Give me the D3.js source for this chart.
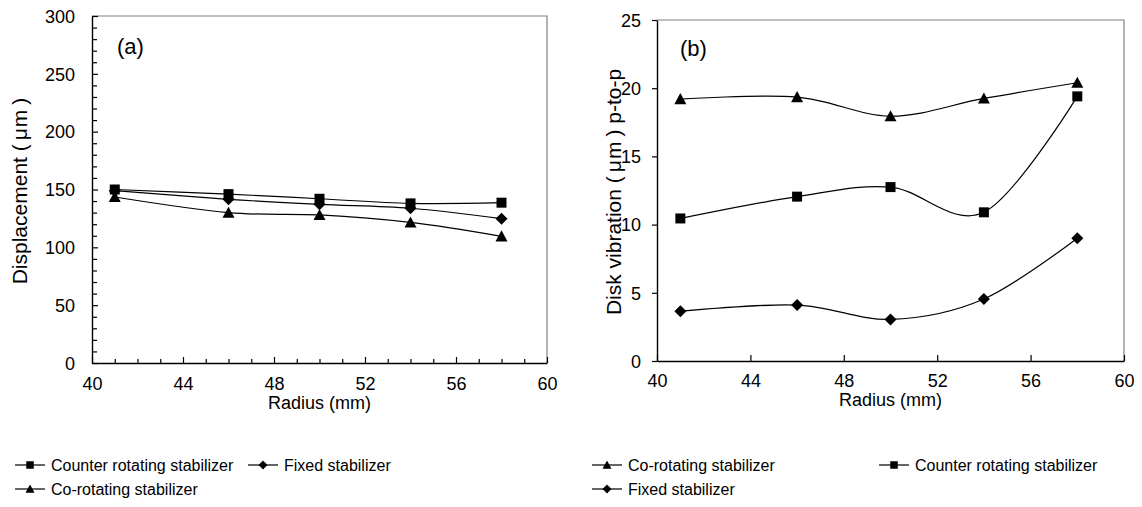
<!DOCTYPE html>
<html><head><meta charset="utf-8">
<script src="https://cdn.jsdelivr.net/npm/d3@7"></script>
<style>
html,body{margin:0;padding:0;background:#fff;}
svg{display:block;font-family:"Liberation Sans",Arial,sans-serif;}
</style></head>
<body>
<svg id="chart" width="1142" height="507"></svg>
<script>
// ---- data ----
const radius = [41, 46, 50, 54, 58];
const xTicks = [40, 44, 48, 52, 56, 60];
const yTicksA = [0, 50, 100, 150, 200, 250, 300];
const yTicksB = [0, 5, 10, 15, 20, 25];
const dispCounter = [150, 146, 142, 138, 138.6];
const dispFixed = [149, 141.5, 137.2, 133.8, 124.8];
const dispCo = [143.5, 130, 128, 121.5, 109.5];
const vibCo = [19.2, 19.35, 17.95, 19.25, 20.4];
const vibCounter = [10.45, 12.05, 12.75, 10.9, 19.4];
const vibFixed = [3.65, 4.1, 3.05, 4.55, 9.0];
const seriesNames = ["Counter rotating stabilizer", "Fixed stabilizer", "Co-rotating stabilizer"];

const svg = d3.select("#chart");

// custom marker shapes (size = full width in px)
const sqType = {draw(c, s){ const h = s/2; c.moveTo(-h,-h); c.lineTo(h,-h); c.lineTo(h,h); c.lineTo(-h,h); c.closePath(); }};
const diaType = {draw(c, s){ const h = s/2; c.moveTo(0,-h); c.lineTo(h,0); c.lineTo(0,h); c.lineTo(-h,0); c.closePath(); }};
const triType = {draw(c, s){ const h = s/2; c.moveTo(0,-h); c.lineTo(h,h*0.85); c.lineTo(-h,h*0.85); c.closePath(); }};
const sym = (t, s) => d3.symbol().type(t).size(s)();
const markerOf = {square: [sqType, 10], diamond: [diaType, 12], triangle: [triType, 12]};

function yTitle(g, x, y, before, after){
  const t = g.append("text").attr("transform",`translate(${x},${y}) rotate(-90)`)
    .attr("text-anchor","middle").attr("dominant-baseline","central").attr("font-size", 21);
  t.append("tspan").text(before + "(");
  t.append("tspan").attr("dx", 4).text("\u03bc");
  t.append("tspan").attr("dx", 1).text("m");
  t.append("tspan").attr("dx", 5).text(")");
  if (after) t.append("tspan").text(after);
}

function panel(opt){
  const {left, right, top, bottom, yMax, yTicks, series, label, minor, yOut} = opt;
  const x = d3.scaleLinear().domain([40, 60]).range([left, right]);
  const y = d3.scaleLinear().domain([0, yMax]).range([bottom, top]);
  const g = svg.append("g");
  g.append("path").attr("d", `M${left},${top}H${right}V${bottom}`).attr("fill","none").attr("stroke","#808080").attr("stroke-width",1.2);

  if (minor){
    const xm = d3.range(40, 61, 1).filter(v => v % 4 !== 0);
    g.append("g").attr("transform",`translate(0,${bottom})`)
      .call(d3.axisBottom(x).tickValues(xm).tickSize(-4).tickFormat(""))
      .call(a => a.select(".domain").remove())
      .call(a => a.selectAll("line").attr("stroke","#000").attr("stroke-width",1.2));
    const ym = d3.range(0, yMax+1, minor).filter(v => v % 50 !== 0);
    g.append("g").attr("transform",`translate(${left},0)`)
      .call(d3.axisLeft(y).tickValues(ym).tickSize(-5).tickFormat(""))
      .call(a => a.select(".domain").remove())
      .call(a => a.selectAll("line").attr("stroke","#000").attr("stroke-width",1.2));
  }
  const xa = g.append("g").attr("transform",`translate(0,${bottom})`)
    .call(d3.axisBottom(x).tickValues(xTicks).tickSize(-6).tickSizeOuter(0).tickFormat(d3.format("d")));
  xa.select(".domain").attr("stroke","#000").attr("stroke-width",1.4);
  xa.selectAll(".tick line").attr("stroke","#000").attr("stroke-width",1.2);
  xa.selectAll(".tick text").attr("y", opt.xTickDy).attr("dy", 0).attr("font-size", 18).attr("fill","#000").attr("font-family","Liberation Sans, Arial, sans-serif");
  const ya = g.append("g").attr("transform",`translate(${left},0)`)
    .call(d3.axisLeft(y).tickValues(yTicks).tickSize(yOut ? 5 : -6).tickSizeOuter(0).tickFormat(d3.format("d")));
  ya.select(".domain").attr("stroke","#000").attr("stroke-width",1.4);
  ya.selectAll(".tick line").attr("stroke","#000").attr("stroke-width",1.2);
  ya.selectAll(".tick text").attr("x", yOut ? -16 : -17).attr("dy","0.35em").attr("font-size", 18).attr("fill","#000").attr("font-family","Liberation Sans, Arial, sans-serif");

  const line = d3.line().x((d,i) => x(radius[i])).y(d => y(d)).curve(d3.curveCardinal.tension(0));
  series.forEach(s => {
    g.append("path").attr("d", line(s.values)).attr("fill","none").attr("stroke","#000").attr("stroke-width",1.2);
    const [t, sz] = markerOf[s.marker];
    g.selectAll(null).data(s.values).enter().append("path")
      .attr("d", sym(t, sz))
      .attr("transform", (d,i) => `translate(${x(radius[i])},${y(d)})`)
      .attr("fill","#000");
  });

  g.append("text").attr("x", opt.labelX).attr("y", opt.labelY).attr("font-size", 22).text(label);
  g.append("text").attr("x", (left+right)/2).attr("y", opt.xTitleY).attr("text-anchor","middle").attr("font-size", 18).text("Radius (mm)");
  yTitle(g, opt.yTitleX, opt.yTitleY, opt.yTitleA, opt.yTitleB);
}

panel({left: 92, right: 547, top: 16, bottom: 363, yMax: 300, yTicks: yTicksA, minor: 10, yOut: false,
  label: "(a)", labelX: 117, labelY: 54, xTickDy: 27, xTitleY: 409, yTitleX: 19, yTitleY: 191,
  yTitleA: "Displacement ", yTitleB: "",
  series: [
    {values: dispCounter, marker: "square"},
    {values: dispFixed, marker: "diamond"},
    {values: dispCo, marker: "triangle"}
  ]});

panel({left: 657, right: 1124, top: 20, bottom: 361, yMax: 25, yTicks: yTicksB, minor: 0, yOut: true,
  label: "(b)", labelX: 680, labelY: 56, xTickDy: 26, xTitleY: 406, yTitleX: 613, yTitleY: 192,
  yTitleA: "Disk vibration ", yTitleB: " p-to-p",
  series: [
    {values: vibCo, marker: "triangle"},
    {values: vibCounter, marker: "square"},
    {values: vibFixed, marker: "diamond"}
  ]});

// legends
const legendItems = [
  {x: 15, y: 465, name: seriesNames[0], marker: "square"},
  {x: 248, y: 465, name: seriesNames[1], marker: "diamond"},
  {x: 15, y: 489, name: seriesNames[2], marker: "triangle"},
  {x: 592, y: 465, name: seriesNames[2], marker: "triangle"},
  {x: 879, y: 465, name: seriesNames[0], marker: "square"},
  {x: 592, y: 489, name: seriesNames[1], marker: "diamond"}
];
const lg = svg.append("g");
legendItems.forEach(it => {
  const gg = lg.append("g").attr("transform", `translate(${it.x},${it.y})`);
  gg.append("line").attr("x1",0).attr("x2",30).attr("y1",0).attr("y2",0).attr("stroke","#000").attr("stroke-width",1.2);
  const [t, sz] = markerOf[it.marker];
  gg.append("path").attr("d", sym(t, sz*0.75)).attr("transform","translate(15,0)").attr("fill","#000");
  gg.append("text").attr("x", 36).attr("y", 0).attr("dy","0.35em").attr("font-size", 16).text(it.name);
});
</script>
</body></html>
